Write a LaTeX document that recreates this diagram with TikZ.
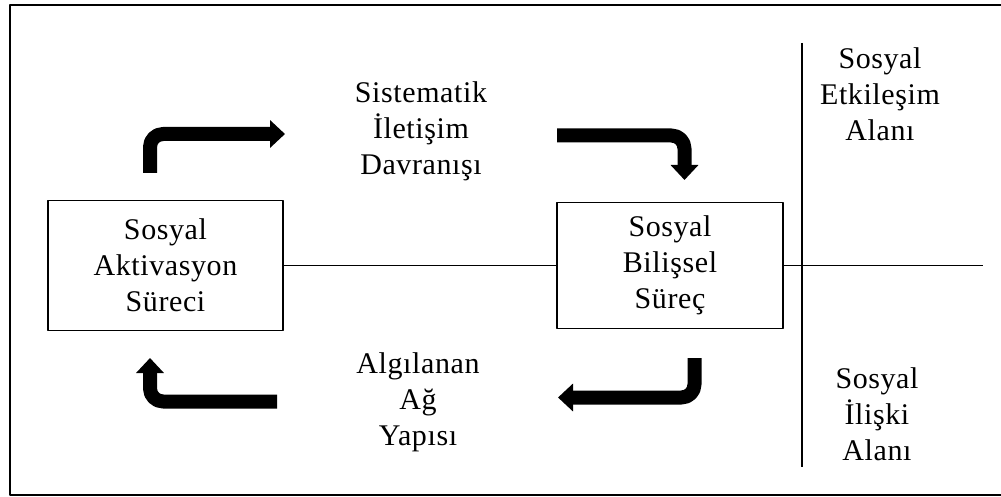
\documentclass[tikz,border=0pt]{standalone}
\usepackage{fontspec}
\setmainfont{Liberation Serif}[LetterSpace=2]
\usetikzlibrary{arrows.meta}

\begin{document}
\begin{tikzpicture}[x=0.5pt, y=-0.5pt, line join=round,
  font=\fontsize{15}{18}\selectfont,
  kutu/.style={draw, line width=0.8pt, minimum width=117.5pt, minimum height=65pt, align=center, inner sep=0pt},
  yazi/.style={align=center, inner sep=0pt},
  okbuyuk/.style={line width=7pt, rounded corners=6.5pt, -{Triangle[width=13.5pt, length=7.5pt]}}]
\useasboundingbox (0,0) rectangle (1001,497);
% --- Dis cerceve ---
\draw[line width=1pt] (1001,5) -- (10,5) -- (10,495) -- (1001,495);

% --- Kutular ---
\node[kutu] (aktivasyon) at (165.5,265.5) {Sosyal\\Aktivasyon\\Süreci};
\node[kutu, minimum width=113pt, minimum height=63pt] (bilissel) at (670,265.5) {Sosyal\\Bilişsel\\Süreç};

% --- Ara yazilar ---
\node[yazi] (iletisim) at (421,131) {Sistematik\\İletişim\\Davranışı};
\node[yazi] (ag) at (418,402) {Algılanan\\Ağ\\Yapısı};
\node[yazi] (etkilesim) at (880,94) {Sosyal\\Etkileşim\\Alanı};
\node[yazi] (iliski) at (877,414) {Sosyal\\İlişki\\Alanı};

% --- Cizgiler ---
\coordinate (sagUc) at (983,265.5);
\coordinate (dikUst) at (802,43);
\coordinate (dikAlt) at (802,467);
\draw[line width=0.8pt] (aktivasyon.east) -- (bilissel.west);
\draw[line width=0.8pt] (bilissel.east) -- (sagUc);
\draw[line width=0.8pt] (dikUst) -- (dikAlt);

% --- Kalin oklar ---
\draw[okbuyuk] (150,173) -- (150,134) -- (285,134);
\draw[okbuyuk] (557,135.5) -- (684.5,135.5) -- (684.5,180);
\draw[okbuyuk] (694.5,358) -- (694.5,397.5) -- (558,397.5);
\draw[okbuyuk] (277,401.5) -- (150,401.5) -- (150,358);
\end{tikzpicture}
\end{document}
